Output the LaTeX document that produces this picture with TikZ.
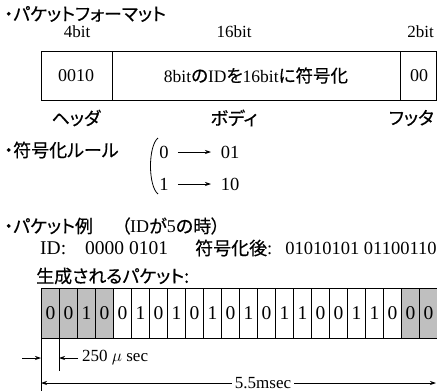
\documentclass[tikz,border=0pt]{standalone}
\usepackage{fontspec}
\setmainfont{Liberation Serif}
\newfontfamily\jp[RawFeature=+palt,FakeBold=0.4]{Noto Sans CJK JP}
\usetikzlibrary{arrows.meta}
\begin{document}
\begin{tikzpicture}[x=1pt,y=-1pt,
  hd/.style={anchor=west,inner sep=0pt,font=\fontsize{18}{20}\selectfont\jp},
  lbl/.style={inner sep=0pt,font=\fontsize{17}{19}\selectfont},
  num/.style={inner sep=0pt,font=\fontsize{18}{20}\selectfont},
  cell/.style={draw=black,line width=0.8pt,minimum width=18pt,minimum height=50pt,inner sep=0pt,anchor=north west,font=\fontsize{19.5}{21}\selectfont},
  gcell/.style={cell,fill=black!25},
  dim/.style={line width=0.7pt},
  arr/.style={dim,-{Stealth[length=6pt,width=4pt]}}]
\useasboundingbox (0,0) rectangle (437,391);
% --- packet format ---
\node[hd] (h1) at (4,14) {・パケットフォーマット};
\node[lbl] (b4) at (77,32) {4bit};
\node[lbl] (b16) at (234,32) {16bit};
\node[lbl,anchor=east] (b2) at (434,32) {2bit};
\draw[line width=0.8pt] (41,51) rectangle (436,100);
\draw[line width=0.8pt] (112,51) -- (112,100) (400,51) -- (400,100);
\node[num] (f1) at (76,75.5) {0010};
\node[lbl,font=\fontsize{17.5}{19}\selectfont] (f2) at (256,75.5) {8bit{\jp の}ID{\jp を}16bit{\jp に符号化}};
\node[num] (f3) at (419,75.5) {00};
\node[lbl,font=\fontsize{18}{20}\selectfont\jp] (n1) at (76,118) {ヘッダ};
\node[lbl,font=\fontsize{18}{20}\selectfont\jp] (n2) at (234,118) {ボディ};
\node[lbl,font=\fontsize{18}{20}\selectfont\jp,anchor=east] (n3) at (434,118) {フッタ};
% --- encoding rule ---
\node[hd] (h2) at (4,150) {・符号化ルール};
\draw[line width=0.8pt] (158,138) .. controls (148,146) and (148,186) .. (158,194);
\node[num,font=\fontsize{18.5}{20}\selectfont] (r0) at (164,152) {0};
\node[num,font=\fontsize{18.5}{20}\selectfont] (r0o) at (230,152) {01};
\draw[arr] (r0.east)++(9,0) coordinate (a0s) -- (211,152) coordinate (a0e);
\node[num,font=\fontsize{18.5}{20}\selectfont] (r1) at (164,184) {1};
\node[num,font=\fontsize{18.5}{20}\selectfont] (r1o) at (230,184) {10};
\draw[arr] (r1.east)++(9,0) coordinate (a1s) -- (211,184) coordinate (a1e);
% --- example ---
\node[hd] (h3) at (4,226) {・パケット例};
\node[hd] (h3b) at (121,226) {（{\fontspec{Liberation Serif}ID}が{\fontspec{Liberation Serif}5}の時）};
\node[hd,font=\fontsize{19.5}{21}\selectfont] (id) at (40,248) {ID:\hspace{19pt}0000 0101};
\node[hd,font=\fontsize{18.5}{20}\selectfont] (enc) at (195,248) {{\jp\fontsize{18}{20}\selectfont 符号化後}:\hspace{13pt}01010101 01100110};
\node[hd] (h4) at (36,276) {生成されるパケット:};
% cells
\foreach \b [count=\i from 0] in {0,0,1,0,0,1,0,1,0,1,0,1,0,1,1,0,0,1,1,0,0,0}{
  \pgfmathsetmacro{\xx}{41+18*\i}
  \ifnum\i<4 \def\st{gcell}\else\ifnum\i>19 \def\st{gcell}\else\def\st{cell}\fi\fi
  \node[\st] (c\i) at (\xx,288) {\b};
}
% dimensions
\draw[dim] (c0.south west) -- ++(0,53) coordinate (v0);
\draw[dim] (c1.south west) -- ++(0,32) coordinate (v1);
\draw[dim] (c21.south east) -- ++(0,53) coordinate (v2);
\coordinate (l0) at (22,358);
\coordinate (l1) at (41,358);
\draw[arr] (l0) -- (l1);
\coordinate (m0) at (78,358);
\coordinate (m1) at (59,358);
\draw[arr] (m0) -- (m1);
\node[lbl,anchor=west,font=\fontsize{17}{19}\selectfont] (t250) at (82,358) {250 $\mu$ sec};
\coordinate (d0) at (41,383);
\coordinate (d1) at (436,383);
\draw[dim,{Stealth[length=6pt,width=4pt]}-{Stealth[length=6pt,width=4pt]}] (d0) -- (d1);
\node[lbl,fill=white,inner xsep=3pt,font=\fontsize{17}{19}\selectfont] (t55) at (263,383) {5.5msec};
\end{tikzpicture}
\end{document}
